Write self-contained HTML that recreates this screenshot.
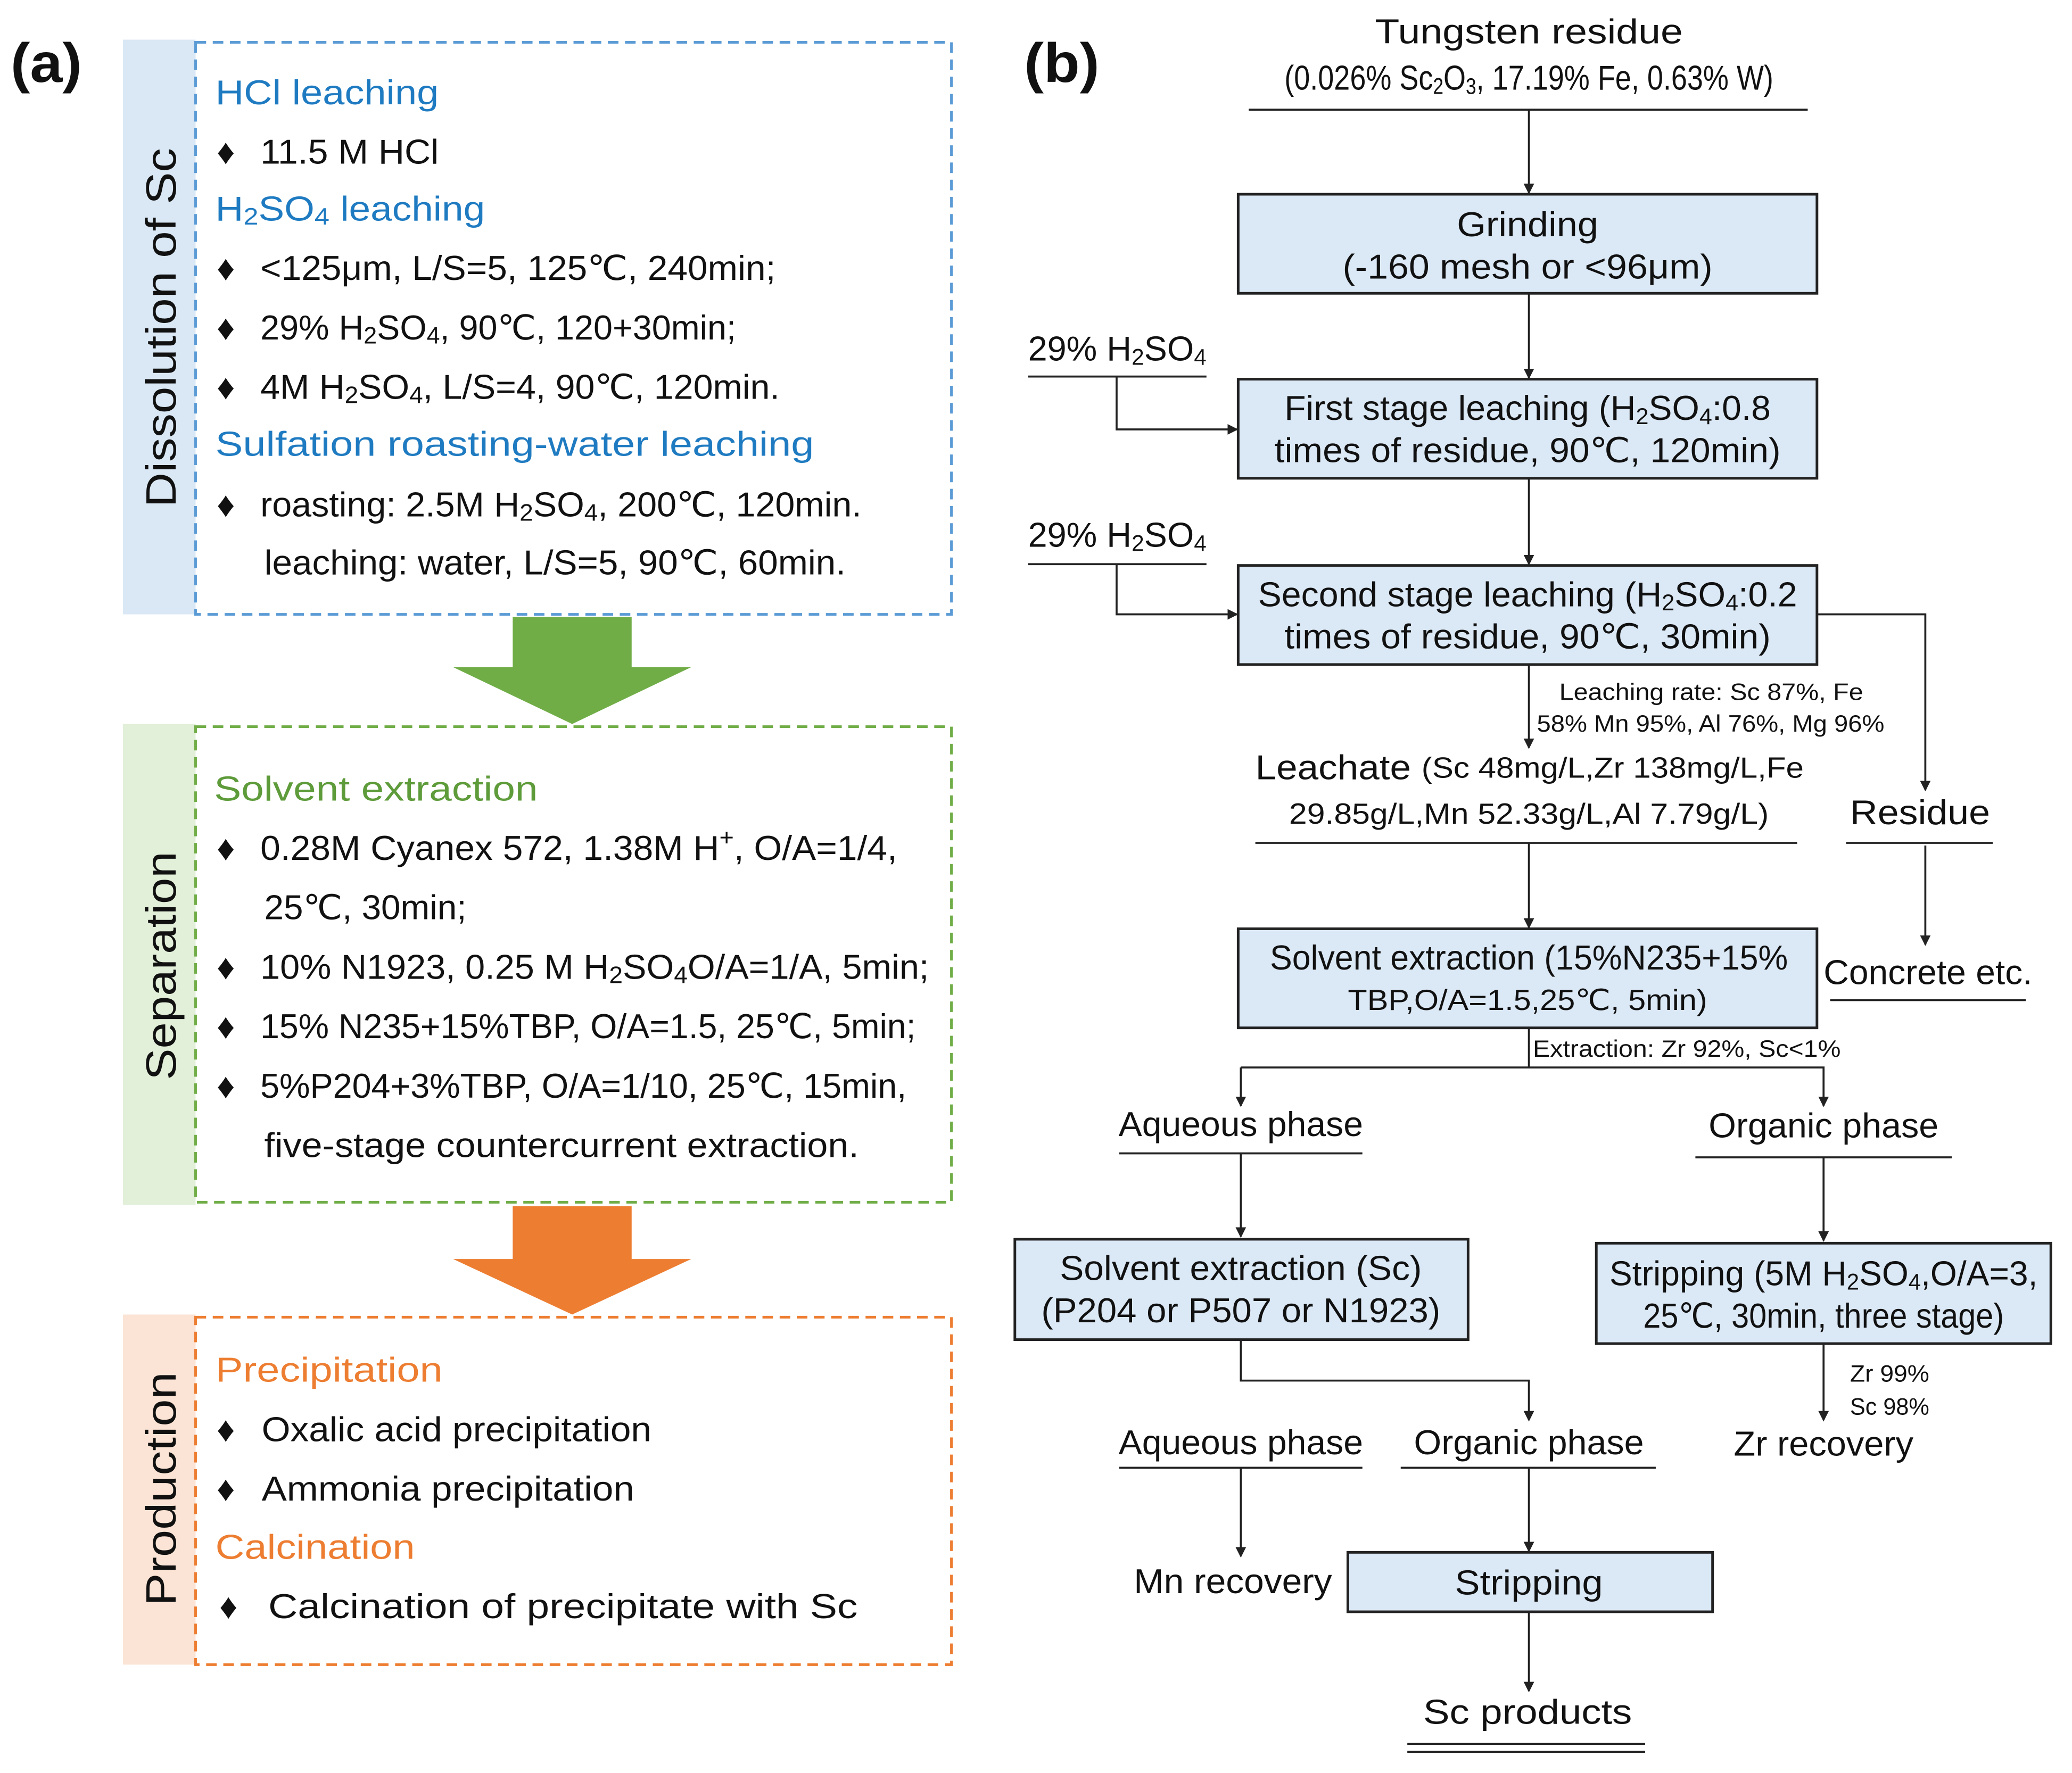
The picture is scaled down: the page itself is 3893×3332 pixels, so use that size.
<!DOCTYPE html>
<html><head><meta charset="utf-8"><style>html,body{margin:0;padding:0;background:#fff}svg{display:block}</style></head>
<body>
<svg xmlns="http://www.w3.org/2000/svg" width="3893" height="3332" viewBox="0 0 1568 1342" font-family="Liberation Sans, DejaVu Sans, sans-serif">
<defs><marker id="ah" markerWidth="8" markerHeight="8" refX="7" refY="4" orient="auto" markerUnits="userSpaceOnUse"><path d="M0,0 L8,4 L0,8 Z" fill="#222"/></marker></defs>
<rect width="1568" height="1342" fill="#fff"/>
<g font-weight="bold" font-size="42" fill="#111"><text x="8" y="62" textLength="54" lengthAdjust="spacingAndGlyphs">(a)</text><text x="775" y="62" textLength="57" lengthAdjust="spacingAndGlyphs">(b)</text></g>
<!-- Panel a -->
<rect x="93" y="30" width="55" height="435" fill="#dae8f5"/>
<rect x="148" y="32" width="572" height="433" fill="none" stroke="#5b9bd5" stroke-width="2" stroke-dasharray="8,5"/>
<text transform="translate(133,248) rotate(-90)" text-anchor="middle" font-size="32" fill="#111" textLength="272" lengthAdjust="spacingAndGlyphs">Dissolution of Sc</text>
<rect x="93" y="548" width="55" height="364" fill="#e2efd9"/>
<rect x="148" y="550" width="572" height="360" fill="none" stroke="#70ad47" stroke-width="2" stroke-dasharray="8,5"/>
<text transform="translate(133,731) rotate(-90)" text-anchor="middle" font-size="32" fill="#111" textLength="173" lengthAdjust="spacingAndGlyphs">Separation</text>
<rect x="93" y="995" width="55" height="265" fill="#fbe4d5"/>
<rect x="148" y="997" width="572" height="263" fill="none" stroke="#ed7d31" stroke-width="2" stroke-dasharray="8,5"/>
<text transform="translate(133,1127) rotate(-90)" text-anchor="middle" font-size="32" fill="#111" textLength="177" lengthAdjust="spacingAndGlyphs">Production</text>
<path d="M388,467 H478 V505 H523 L433,548 L343,505 H388 Z" fill="#70ad47"/>
<path d="M388,913 H478 V953 H523 L433,995 L343,953 H388 Z" fill="#ed7d31"/>
<g font-size="26" dominant-baseline="central" fill="#111" lengthAdjust="spacingAndGlyphs">
<g font-size="27"><text x="164" y="115">♦</text><text x="164" y="203">♦</text><text x="164" y="248">♦</text><text x="164" y="293">♦</text><text x="164" y="382">♦</text>
<text x="164" y="642">♦</text><text x="164" y="732">♦</text><text x="164" y="777">♦</text><text x="164" y="822">♦</text>
<text x="164" y="1082">♦</text><text x="164" y="1127">♦</text><text x="166" y="1216">♦</text></g>
<text x="163" y="70" fill="#1f7bc1" textLength="169" lengthAdjust="spacingAndGlyphs">HCl leaching</text>
<text x="197" y="115" textLength="135" lengthAdjust="spacingAndGlyphs">11.5 M HCl</text>
<text x="163" y="158" fill="#1f7bc1" textLength="204" lengthAdjust="spacingAndGlyphs">H<tspan font-size="18" dy="6">2</tspan><tspan dy="-6">SO</tspan><tspan font-size="18" dy="6">4</tspan><tspan dy="-6"> leaching</tspan></text>
<text x="197" y="203" textLength="390" lengthAdjust="spacingAndGlyphs">&lt;125μm, L/S=5, 125℃, 240min;</text>
<text x="197" y="248" textLength="360" lengthAdjust="spacingAndGlyphs">29% H<tspan font-size="18" dy="6">2</tspan><tspan dy="-6">SO</tspan><tspan font-size="18" dy="6">4</tspan><tspan dy="-6">, 90℃, 120+30min;</tspan></text>
<text x="197" y="293" textLength="393" lengthAdjust="spacingAndGlyphs">4M H<tspan font-size="18" dy="6">2</tspan><tspan dy="-6">SO</tspan><tspan font-size="18" dy="6">4</tspan><tspan dy="-6">, L/S=4, 90℃, 120min.</tspan></text>
<text x="163" y="336" fill="#1f7bc1" textLength="453" lengthAdjust="spacingAndGlyphs">Sulfation roasting-water leaching</text>
<text x="197" y="382" textLength="455" lengthAdjust="spacingAndGlyphs">roasting: 2.5M H<tspan font-size="18" dy="6">2</tspan><tspan dy="-6">SO</tspan><tspan font-size="18" dy="6">4</tspan><tspan dy="-6">, 200℃, 120min.</tspan></text>
<text x="200" y="426" textLength="440" lengthAdjust="spacingAndGlyphs">leaching: water, L/S=5, 90℃, 60min.</text>
<text x="162" y="597" fill="#5e9b3a" textLength="245" lengthAdjust="spacingAndGlyphs">Solvent extraction</text>
<text x="197" y="642" textLength="482" lengthAdjust="spacingAndGlyphs">0.28M Cyanex 572, 1.38M H<tspan font-size="18" dy="-8">+</tspan><tspan dy="8">, O/A=1/4,</tspan></text>
<text x="200" y="687" textLength="153" lengthAdjust="spacingAndGlyphs">25℃, 30min;</text>
<text x="197" y="732" textLength="506" lengthAdjust="spacingAndGlyphs">10% N1923, 0.25 M H<tspan font-size="18" dy="6">2</tspan><tspan dy="-6">SO</tspan><tspan font-size="18" dy="6">4</tspan><tspan dy="-6">O/A=1/A, 5min;</tspan></text>
<text x="197" y="777" textLength="496" lengthAdjust="spacingAndGlyphs">15% N235+15%TBP, O/A=1.5, 25℃, 5min;</text>
<text x="197" y="822" textLength="489" lengthAdjust="spacingAndGlyphs">5%P204+3%TBP, O/A=1/10, 25℃, 15min,</text>
<text x="200" y="867" textLength="450" lengthAdjust="spacingAndGlyphs">five-stage countercurrent extraction.</text>
<text x="163" y="1037" fill="#ed7d31" textLength="172" lengthAdjust="spacingAndGlyphs">Precipitation</text>
<text x="198" y="1082" textLength="295" lengthAdjust="spacingAndGlyphs">Oxalic acid precipitation</text>
<text x="198" y="1127" textLength="282" lengthAdjust="spacingAndGlyphs">Ammonia precipitation</text>
<text x="163" y="1171" fill="#ed7d31" textLength="151" lengthAdjust="spacingAndGlyphs">Calcination</text>
<text x="203" y="1216" textLength="446" lengthAdjust="spacingAndGlyphs">Calcination of precipitate with Sc</text>
</g>
<!-- Panel b -->
<g fill="#dbe8f5" stroke="#222" stroke-width="2">
<rect x="937" y="147" width="438" height="75"/>
<rect x="937" y="287" width="438" height="75"/>
<rect x="937" y="428" width="438" height="75"/>
<rect x="937" y="703" width="438" height="75"/>
<rect x="768" y="938" width="343" height="76"/>
<rect x="1208" y="941" width="344" height="76"/>
<rect x="1020" y="1175" width="276" height="45"/>
</g>
<g stroke="#222" stroke-width="1.5" fill="none">
<line x1="945" y1="83" x2="1368" y2="83"/>
<line x1="778" y1="285" x2="913" y2="285"/>
<line x1="778" y1="427" x2="913" y2="427"/>
<line x1="950" y1="638" x2="1360" y2="638"/>
<line x1="1397" y1="638" x2="1508" y2="638"/>
<line x1="1385" y1="757" x2="1533" y2="757"/>
<line x1="847" y1="873" x2="1031" y2="873"/>
<line x1="1283" y1="876" x2="1477" y2="876"/>
<line x1="847" y1="1111" x2="1031" y2="1111"/>
<line x1="1060" y1="1111" x2="1253" y2="1111"/>
<line x1="1065" y1="1320" x2="1245" y2="1320"/>
<line x1="1065" y1="1326" x2="1245" y2="1326"/>
<g marker-end="url(#ah)">
<path d="M1157,83 V146"/>
<path d="M1157,222 V286"/>
<path d="M1157,362 V427"/>
<path d="M845,285 V325 H936"/>
<path d="M845,427 V465 H936"/>
<path d="M1375,465 H1457 V598"/>
<path d="M1157,503 V566"/>
<path d="M1157,638 V702"/>
<path d="M1457,640 V715"/>
<path d="M939,808 V837"/>
<path d="M1157,778 V808 H1380 V837"/>
<path d="M939,873 V936"/>
<path d="M1380,876 V939"/>
<path d="M1380,1017 V1075"/>
<path d="M939,1111 V1178"/>
<path d="M939,1014 V1045 H1157 V1075"/>
<path d="M1157,1111 V1174"/>
<path d="M1157,1220 V1280"/>
</g>
<path d="M939,808 H1157"/>
</g>
<g font-size="26" dominant-baseline="central" fill="#111" text-anchor="middle">
<text x="1157" y="24" textLength="233" lengthAdjust="spacingAndGlyphs">Tungsten residue</text>
<text x="1157" y="59" textLength="370" lengthAdjust="spacingAndGlyphs">(0.026% Sc<tspan font-size="17" dy="6">2</tspan><tspan dy="-6">O</tspan><tspan font-size="17" dy="6">3</tspan><tspan dy="-6">, 17.19% Fe, 0.63% W)</tspan></text>
<text x="1156" y="170" textLength="107" lengthAdjust="spacingAndGlyphs">Grinding</text>
<text x="1156" y="202" textLength="280" lengthAdjust="spacingAndGlyphs">(-160 mesh or &lt;96μm)</text>
<text x="1156" y="309" textLength="368" lengthAdjust="spacingAndGlyphs">First stage leaching (H<tspan font-size="17" dy="6">2</tspan><tspan dy="-6">SO</tspan><tspan font-size="17" dy="6">4</tspan><tspan dy="-6">:0.8</tspan></text>
<text x="1156" y="341" textLength="383" lengthAdjust="spacingAndGlyphs">times of residue, 90℃, 120min)</text>
<text x="1156" y="450" textLength="408" lengthAdjust="spacingAndGlyphs">Second stage leaching (H<tspan font-size="17" dy="6">2</tspan><tspan dy="-6">SO</tspan><tspan font-size="17" dy="6">4</tspan><tspan dy="-6">:0.2</tspan></text>
<text x="1156" y="482" textLength="368" lengthAdjust="spacingAndGlyphs">times of residue, 90℃, 30min)</text>
<text x="1157" y="616" font-size="22" textLength="363" lengthAdjust="spacingAndGlyphs">29.85g/L,Mn 52.33g/L,Al 7.79g/L)</text>
<text x="1453" y="615" textLength="106" lengthAdjust="spacingAndGlyphs">Residue</text>
<text x="1459" y="736" textLength="158" lengthAdjust="spacingAndGlyphs">Concrete etc.</text>
<text x="1157" y="725" textLength="392" lengthAdjust="spacingAndGlyphs">Solvent extraction (15%N235+15%</text>
<text x="1156" y="757" font-size="22" textLength="272" lengthAdjust="spacingAndGlyphs">TBP,O/A=1.5,25℃, 5min)</text>
<text x="939" y="851" textLength="185" lengthAdjust="spacingAndGlyphs">Aqueous phase</text>
<text x="1380" y="852" textLength="174" lengthAdjust="spacingAndGlyphs">Organic phase</text>
<text x="939" y="960" textLength="274" lengthAdjust="spacingAndGlyphs">Solvent extraction (Sc)</text>
<text x="939" y="992" textLength="302" lengthAdjust="spacingAndGlyphs">(P204 or P507 or N1923)</text>
<text x="1380" y="964" textLength="324" lengthAdjust="spacingAndGlyphs">Stripping (5M H<tspan font-size="17" dy="6">2</tspan><tspan dy="-6">SO</tspan><tspan font-size="17" dy="6">4</tspan><tspan dy="-6">,O/A=3,</tspan></text>
<text x="1380" y="996" textLength="273" lengthAdjust="spacingAndGlyphs">25℃, 30min, three stage)</text>
<text x="1380" y="1093" textLength="136" lengthAdjust="spacingAndGlyphs">Zr recovery</text>
<text x="939" y="1092" textLength="185" lengthAdjust="spacingAndGlyphs">Aqueous phase</text>
<text x="1157" y="1092" textLength="174" lengthAdjust="spacingAndGlyphs">Organic phase</text>
<text x="933" y="1197" textLength="150" lengthAdjust="spacingAndGlyphs">Mn recovery</text>
<text x="1157" y="1198" textLength="112" lengthAdjust="spacingAndGlyphs">Stripping</text>
<text x="1156" y="1296" textLength="158" lengthAdjust="spacingAndGlyphs">Sc products</text>
</g>
<g font-size="26" dominant-baseline="central" fill="#111">
<text x="778" y="264" textLength="135" lengthAdjust="spacingAndGlyphs">29% H<tspan font-size="17" dy="6">2</tspan><tspan dy="-6">SO</tspan><tspan font-size="17" dy="6">4</tspan></text>
<text x="778" y="405" textLength="135" lengthAdjust="spacingAndGlyphs">29% H<tspan font-size="17" dy="6">2</tspan><tspan dy="-6">SO</tspan><tspan font-size="17" dy="6">4</tspan></text>
<text x="950" y="581" textLength="415" lengthAdjust="spacingAndGlyphs">Leachate <tspan font-size="22">(Sc 48mg/L,Zr 138mg/L,Fe</tspan></text>
<text x="1180" y="524" font-size="18" textLength="230" lengthAdjust="spacingAndGlyphs">Leaching rate: Sc 87%, Fe</text>
<text x="1163" y="548" font-size="18" textLength="263" lengthAdjust="spacingAndGlyphs">58% Mn 95%, Al 76%, Mg 96%</text>
<text x="1160" y="794" font-size="18" textLength="233" lengthAdjust="spacingAndGlyphs">Extraction: Zr 92%, Sc&lt;1%</text>
<text x="1400" y="1040" font-size="18" textLength="60" lengthAdjust="spacingAndGlyphs">Zr 99%</text>
<text x="1400" y="1065" font-size="18" textLength="60" lengthAdjust="spacingAndGlyphs">Sc 98%</text>
</g>
</svg>
</body></html>
